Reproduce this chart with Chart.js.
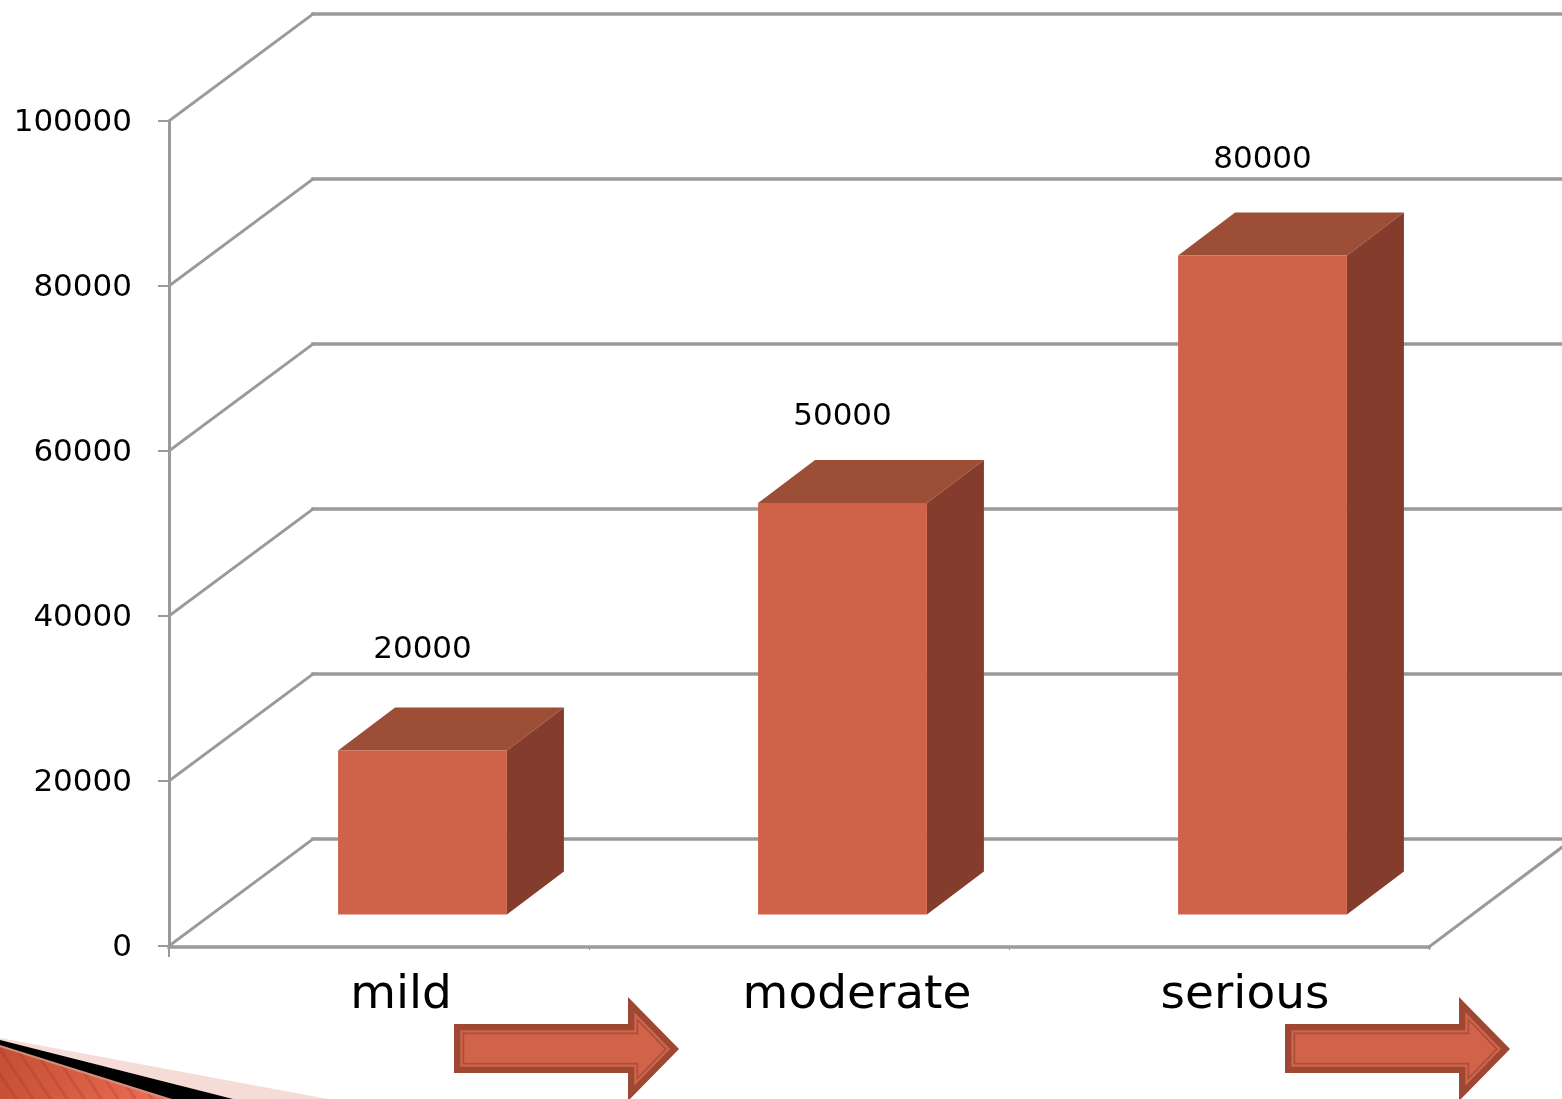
<!DOCTYPE html>
<html>
<head>
<meta charset="utf-8">
<title>Severity</title>
<style>
    html, body { margin: 0; padding: 0; background: #fff; overflow: hidden; }
    canvas { display: block; }
</style>
<script src="https://cdn.jsdelivr.net/npm/chart.js"></script>
</head>
<body>
<canvas id="severity_chart" width="1562" height="1099"></canvas>
<script>
const categories = ["mild", "moderate", "serious"];
const severity_values = [20000, 50000, 80000];
const y_min = 0;
const y_max = 100000;
const y_step = 20000;

const GRID = "#9a9a9a";
const FONT = "'DejaVu Sans', Verdana, sans-serif";

// floor depth of the box the bars stand in
const WALL_DX = 144, WALL_DY = -107;
// where the front of a bar sits on the floor, and how deep the bar is
const BAR_DX = 43.5, BAR_DY = -30.5;
const DEPTH_DX = 57, DEPTH_DY = -43;

const polygon = (ctx, pts, fill, stroke) => {
    ctx.beginPath();
    pts.forEach((p, i) => i ? ctx.lineTo(p[0], p[1]) : ctx.moveTo(p[0], p[1]));
    ctx.closePath();
    ctx.fillStyle = fill;
    ctx.fill();
    if (stroke) {
        ctx.strokeStyle = stroke;
        ctx.lineWidth = 1;
        ctx.stroke();
    }
};

const arrowPoints = (x0, d) => [
    [x0 + d, 1024 + d],
    [x0 + 174 + d, 1024 + d],
    [x0 + 174 + d, 997 + 2.41 * d],
    [x0 + 225 - 1.41 * d, 1049],
    [x0 + 174 + d, 1101 - 2.41 * d],
    [x0 + 174 + d, 1073 - d],
    [x0 + d, 1073 - d],
];

const drawArrow = (ctx, x0) => {
    polygon(ctx, arrowPoints(x0, 0), "#9e4732");
    polygon(ctx, arrowPoints(x0, 6.3), "#d0634a");
    polygon(ctx, arrowPoints(x0, 8.6), "#a94f39");
    polygon(ctx, arrowPoints(x0, 10.2), "#d0634a");
};

// slide corner: pale wedge, black wedge, striped orange wedge
const drawCorner = (ctx) => {
    polygon(ctx, [[0, 1038], [328, 1099], [0, 1099]], "#f5dcd7");
    polygon(ctx, [[0, 1040], [233, 1099], [0, 1099]], "#000");
    polygon(ctx, [[0, 1045], [172, 1099], [0, 1099]], "#d58d7d");
    ctx.save();
    ctx.beginPath();
    ctx.moveTo(0, 1047);
    ctx.lineTo(164, 1099);
    ctx.lineTo(0, 1099);
    ctx.closePath();
    ctx.clip();
    const grad = ctx.createLinearGradient(0, 1060, 160, 1099);
    grad.addColorStop(0, "#c64f35");
    grad.addColorStop(1, "#ea6d54");
    ctx.fillStyle = grad;
    ctx.fillRect(0, 1040, 170, 60);
    ctx.strokeStyle = "rgba(150,50,30,0.22)";
    ctx.lineWidth = 3;
    for (let x = -40; x < 170; x += 17) {
        ctx.beginPath();
        ctx.moveTo(x, 1040);
        ctx.lineTo(x + 40, 1100);
        ctx.stroke();
    }
    ctx.restore();
};

const box3d = {
    id: "box3d",
    beforeDatasetsDraw(chart) {
        const ctx = chart.ctx;
        const y = chart.scales.y;
        const area = chart.chartArea;
        ctx.save();
        ctx.strokeStyle = GRID;
        ctx.lineCap = "square";
        y.ticks.forEach((tick) => {
            const py = y.getPixelForValue(tick.value);
            ctx.lineWidth = 3;
            ctx.beginPath();
            ctx.moveTo(area.left, py);
            ctx.lineTo(area.left + WALL_DX, py + WALL_DY);
            ctx.stroke();
            ctx.lineWidth = 3.5;
            ctx.beginPath();
            ctx.moveTo(area.left + WALL_DX, py + WALL_DY);
            ctx.lineTo(area.right + WALL_DX, py + WALL_DY);
            ctx.stroke();
        });
        // floor: front edge and right edge
        ctx.lineWidth = 3.5;
        ctx.beginPath();
        ctx.moveTo(area.left, area.bottom + 1);
        ctx.lineTo(area.right, area.bottom + 1);
        ctx.stroke();
        ctx.lineWidth = 3;
        ctx.beginPath();
        ctx.moveTo(area.right, area.bottom + 1);
        ctx.lineTo(area.right + WALL_DX, area.bottom + WALL_DY);
        ctx.stroke();
        // left wall upright runs just past the floor
        ctx.lineWidth = 2;
        ctx.lineCap = "butt";
        ctx.beginPath();
        ctx.moveTo(area.left, area.bottom);
        ctx.lineTo(area.left, area.bottom + 11);
        ctx.stroke();
        ctx.restore();
    },
    beforeDatasetDraw(chart, args) {
        const ctx = chart.ctx;
        ctx.save();
        ctx.translate(BAR_DX, BAR_DY);
        args.meta.data.forEach((bar) => {
            const l = bar.x - bar.width / 2, r = bar.x + bar.width / 2;
            polygon(ctx, [[l, bar.y], [l + DEPTH_DX, bar.y + DEPTH_DY], [r + DEPTH_DX, bar.y + DEPTH_DY], [r, bar.y]], "#9d4e37");
            polygon(ctx, [[r, bar.y], [r + DEPTH_DX, bar.y + DEPTH_DY], [r + DEPTH_DX, bar.base + DEPTH_DY], [r, bar.base]], "#843d2d");
        });
    },
    afterDatasetDraw(chart) {
        chart.ctx.restore();
    },
    afterDraw(chart) {
        const ctx = chart.ctx;
        const x = chart.scales.x;
        const meta = chart.getDatasetMeta(0);
        // value captions float above the top face, hand placed per bar
        const value_lift = [57.5, 43, 52.5];
        // category captions sit in their own text boxes under the floor
        const category_shift = [22, 58, 26];
        ctx.save();
        ctx.fillStyle = "#000";
        ctx.textBaseline = "middle";
        ctx.textAlign = "center";
        ctx.font = `31px ${FONT}`;
        meta.data.forEach((bar, i) => {
            ctx.fillText(String(severity_values[i]), bar.x + BAR_DX, bar.y + BAR_DY + DEPTH_DY - value_lift[i]);
        });
        ctx.font = `47px ${FONT}`;
        ctx.textBaseline = "alphabetic";
        categories.forEach((name, i) => {
            ctx.fillText(name, x.getPixelForValue(i) + category_shift[i], 1008);
        });
        drawArrow(ctx, 454);
        drawArrow(ctx, 1285);
        drawCorner(ctx);
        ctx.restore();
    },
};

new Chart(document.getElementById("severity_chart").getContext("2d"), {
    type: "bar",
    data: {
        labels: categories,
        datasets: [{
            label: "",
            data: severity_values,
            backgroundColor: "#cf634a",
            borderWidth: 0,
            barPercentage: 0.402,
            categoryPercentage: 1,
            clip: false,
        }],
    },
    plugins: [box3d],
    options: {
        responsive: false,
        animation: false,
        events: [],
        layout: { padding: { top: 121, right: 133, left: 0, bottom: 0 } },
        plugins: {
            legend: { display: false },
            tooltip: { enabled: false },
        },
        scales: {
            x: {
                afterFit: (scale) => { scale.height = 153; },
                ticks: { display: false },
                border: { display: false },
                grid: { drawOnChartArea: false, color: "#8a8a8a", lineWidth: 1, tickLength: 4 },
            },
            y: {
                min: y_min,
                max: y_max,
                afterFit: (scale) => { scale.width = 169; },
                ticks: {
                    stepSize: y_step,
                    padding: 26,
                    labelOffset: 2,
                    color: "#000",
                    font: { family: FONT, size: 31 },
                    callback: (value) => String(value),
                },
                border: { color: GRID, width: 3 },
                grid: { drawOnChartArea: false, color: GRID, lineWidth: 2, tickLength: 11 },
            },
        },
    },
});
</script>
</body>
</html>
